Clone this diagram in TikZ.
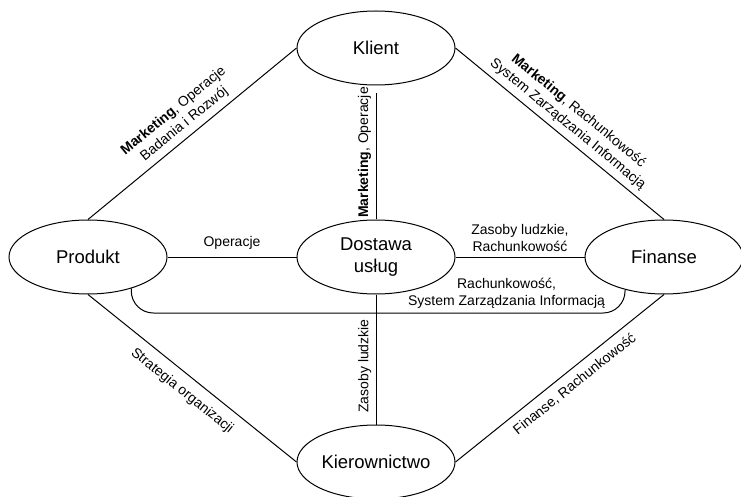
\documentclass[tikz,border=0pt]{standalone}
\usepackage{fontspec}
\setmainfont{Liberation Sans}
\usetikzlibrary{shapes.geometric, positioning}

\begin{document}
\begin{tikzpicture}[x=1pt, y=1pt, line width=1pt, on grid, auto,
    place/.style={ellipse, draw, minimum width=158pt, minimum height=74pt,
      inner sep=0pt, align=center, font=\fontsize{18.5}{22}\selectfont},
    lbl/.style={font=\fontsize{14}{17}\selectfont, align=center}]
  \useasboundingbox (0,0) rectangle (741,496);
  \node[place] (Do) at (376,239) {Dostawa\\usług};
  \node[place] (Kl) [above=209pt of Do] {Klient};
  \node[place] (Pr) [left=288pt of Do] {Produkt};
  \node[place] (Fi) [right=288pt of Do] {Finanse};
  \node[place] (Ki) [below=205pt of Do] {Kierownictwo};
  \coordinate (rail) at (0,183);
  \path[draw]
    (Pr.north) edge node[lbl, sloped, above=2pt]
      {\textbf{Marketing}, Operacje\\Badania i Rozwój} (Kl.west)
    (Kl.east) edge node[lbl, sloped, above=2pt]
      {\textbf{Marketing}, Rachunkowość\\System Zarządzania Informacją} (Fi.north)
    (Pr.south) edge node[lbl, sloped, below=6pt, pos=0.5] {Strategia organizacji} (Ki.west)
    (Ki.east) edge node[lbl, sloped, below=4pt, pos=0.53] {Finanse, Rachunkowość} (Fi.south)
    (Do.north) edge[shorten >=8pt] node[lbl, sloped, above=1pt] {\textbf{Marketing}, Operacje} (Kl.south)
    (Ki.north) edge node[lbl, sloped, above=1pt, pos=0.45] {Zasoby ludzkie} (Do.south)
    (Pr.east) edge node[lbl, above=4pt] {Operacje} (Do.west)
    (Do.east) edge node[lbl, above=2pt] {Zasoby ludzkie,\\Rachunkowość} (Fi.west);
  % trasa pod Dostawa usług
  \draw[rounded corners=22pt] (Pr.-36) |- (Fi.-140 |- rail)
    node[lbl, above=1pt, pos=0.88] {Rachunkowość,\\System Zarządzania Informacją}
    -- (Fi.-140);
\end{tikzpicture}
\end{document}
